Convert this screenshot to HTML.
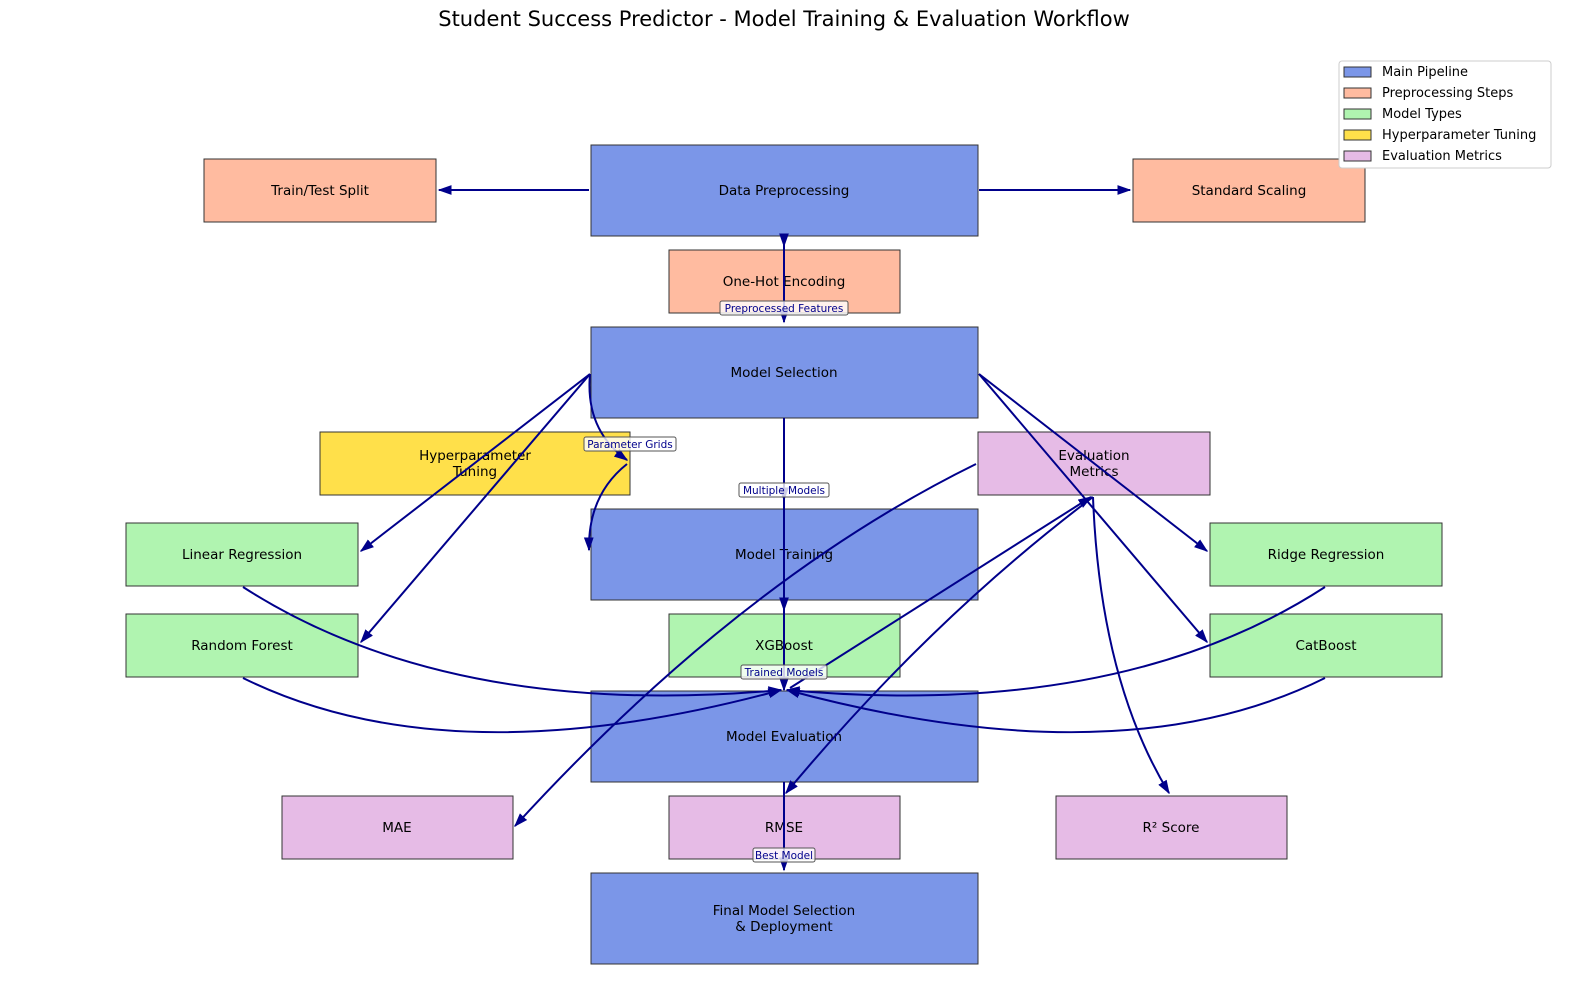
<!DOCTYPE html>
<html><head><meta charset="utf-8"><style>
html,body{margin:0;padding:0;background:#fff;width:1584px;height:984px;overflow:hidden}
svg{display:block;font-family:"DejaVu Sans","Liberation Sans",sans-serif}
</style></head><body>
<svg width="1584" height="984" viewBox="0 0 1584 984" xmlns="http://www.w3.org/2000/svg">
<defs>
<marker id="b" viewBox="0 0 10 10" refX="9" refY="5" markerWidth="14" markerHeight="14" orient="auto" markerUnits="userSpaceOnUse"><path d="M0,1.5L10,5L0,8.5z" fill="#00008b"/></marker>
</defs>
<text x="784" y="26" font-size="21" text-anchor="middle" fill="#000">Student Success Predictor - Model Training &amp; Evaluation Workflow</text>
<g stroke="#333" stroke-width="1" font-size="13.5" text-anchor="middle">
<rect x="204" y="159" width="232" height="63" fill="#ffbba0"/>
<rect x="591" y="145" width="387" height="91" fill="#7b96e8"/>
<rect x="1133" y="159" width="232" height="63" fill="#ffbba0"/>
<rect x="669" y="250" width="231" height="63" fill="#ffbba0"/>
<rect x="591" y="327" width="387" height="91" fill="#7b96e8"/>
<rect x="320" y="432" width="310" height="63" fill="#ffe04a"/>
<rect x="978" y="432" width="232" height="63" fill="#e6bbe6"/>
<rect x="126" y="523" width="232" height="63" fill="#b0f4b0"/>
<rect x="591" y="509" width="387" height="91" fill="#7b96e8"/>
<rect x="1210" y="523" width="232" height="63" fill="#b0f4b0"/>
<rect x="126" y="614" width="232" height="63" fill="#b0f4b0"/>
<rect x="669" y="614" width="231" height="63" fill="#b0f4b0"/>
<rect x="1210" y="614" width="232" height="63" fill="#b0f4b0"/>
<rect x="591" y="691" width="387" height="91" fill="#7b96e8"/>
<rect x="282" y="796" width="231" height="63" fill="#e6bbe6"/>
<rect x="669" y="796" width="231" height="63" fill="#e6bbe6"/>
<rect x="1056" y="796" width="231" height="63" fill="#e6bbe6"/>
<rect x="591" y="873" width="387" height="91" fill="#7b96e8"/>
</g>
<g font-size="13.5" text-anchor="middle" fill="#000">
<text x="320" y="195">Train/Test Split</text>
<text x="784" y="195">Data Preprocessing</text>
<text x="1249" y="195">Standard Scaling</text>
<text x="784" y="286">One-Hot Encoding</text>
<text x="784" y="377">Model Selection</text>
<text x="475" y="460">Hyperparameter</text><text x="475" y="476">Tuning</text>
<text x="1094" y="460">Evaluation</text><text x="1094" y="476">Metrics</text>
<text x="242" y="559">Linear Regression</text>
<text x="784" y="559">Model Training</text>
<text x="1326" y="559">Ridge Regression</text>
<text x="242" y="650">Random Forest</text>
<text x="784" y="650">XGBoost</text>
<text x="1326" y="650">CatBoost</text>
<text x="784" y="741">Model Evaluation</text>
<text x="397" y="832">MAE</text>
<text x="784" y="832">RMSE</text>
<text x="1171" y="832">R² Score</text>
<text x="784" y="915">Final Model Selection</text><text x="784" y="931">&amp; Deployment</text>
</g>
<g stroke="#00008b" stroke-width="2" fill="none">
<line x1="589" y1="190" x2="439" y2="190" marker-end="url(#b)"/>
<line x1="979" y1="190" x2="1130" y2="190" marker-end="url(#b)"/>
<line x1="784" y1="236" x2="784" y2="246" marker-end="url(#b)"/>
<line x1="784" y1="240" x2="784" y2="322" marker-end="url(#b)"/>
<line x1="590" y1="374" x2="361" y2="551" marker-end="url(#b)"/>
<line x1="590" y1="374" x2="361" y2="642" marker-end="url(#b)"/>
<path d="M590,374 Q585,430 627,460" marker-end="url(#b)"/>
<path d="M627,464 Q588,495 589,550" marker-end="url(#b)"/>
<line x1="979" y1="374" x2="1207" y2="551" marker-end="url(#b)"/>
<line x1="979" y1="374" x2="1207" y2="642" marker-end="url(#b)"/>
<line x1="784" y1="418" x2="784" y2="500" marker-end="url(#b)"/>
<line x1="784" y1="500" x2="784" y2="610" marker-end="url(#b)"/>
<line x1="784" y1="610" x2="784" y2="690" marker-end="url(#b)"/>
<path d="M243,587 Q450,720 781,690" marker-end="url(#b)"/>
<path d="M243,678 Q450,780 781,690" marker-end="url(#b)"/>
<path d="M1325,587 Q1120,720 787,690" marker-end="url(#b)"/>
<path d="M1325,678 Q1120,780 787,690" marker-end="url(#b)"/>
<line x1="790" y1="688" x2="1091" y2="497" marker-end="url(#b)"/>
<path d="M976,464 Q740,580 515,826" marker-end="url(#b)"/>
<path d="M1093,497 Q930,620 786,793" marker-end="url(#b)"/>
<path d="M1093,497 Q1100,680 1169,793" marker-end="url(#b)"/>
<line x1="784" y1="782" x2="784" y2="870" marker-end="url(#b)"/>
</g>
<g font-size="10.5" text-anchor="middle" fill="#00008b">
<rect x="720" y="301" width="128" height="14" rx="2" fill="#fff" fill-opacity="0.8" stroke="#555"/><text x="784" y="312">Preprocessed Features</text>
<rect x="584" y="437" width="92" height="14" rx="2" fill="#fff" fill-opacity="0.8" stroke="#555"/><text x="630" y="448">Parameter Grids</text>
<rect x="739" y="483" width="90" height="14" rx="2" fill="#fff" fill-opacity="0.8" stroke="#555"/><text x="784" y="494">Multiple Models</text>
<rect x="741" y="665" width="86" height="14" rx="2" fill="#fff" fill-opacity="0.8" stroke="#555"/><text x="784" y="676">Trained Models</text>
<rect x="753" y="848" width="62" height="14" rx="2" fill="#fff" fill-opacity="0.8" stroke="#555"/><text x="784" y="859">Best Model</text>
</g>
<g font-size="13">
<rect x="1339" y="61" width="212" height="107" rx="3" fill="#fff" stroke="#ccc"/>
<rect x="1344" y="67" width="27" height="10" fill="#7b96e8" stroke="#333"/><text x="1382" y="76">Main Pipeline</text>
<rect x="1344" y="88" width="27" height="10" fill="#ffbba0" stroke="#333"/><text x="1382" y="97">Preprocessing Steps</text>
<rect x="1344" y="109" width="27" height="10" fill="#b0f4b0" stroke="#333"/><text x="1382" y="118">Model Types</text>
<rect x="1344" y="130" width="27" height="10" fill="#ffe04a" stroke="#333"/><text x="1382" y="139">Hyperparameter Tuning</text>
<rect x="1344" y="151" width="27" height="10" fill="#e6bbe6" stroke="#333"/><text x="1382" y="160">Evaluation Metrics</text>
</g>
</svg>
</body></html>
